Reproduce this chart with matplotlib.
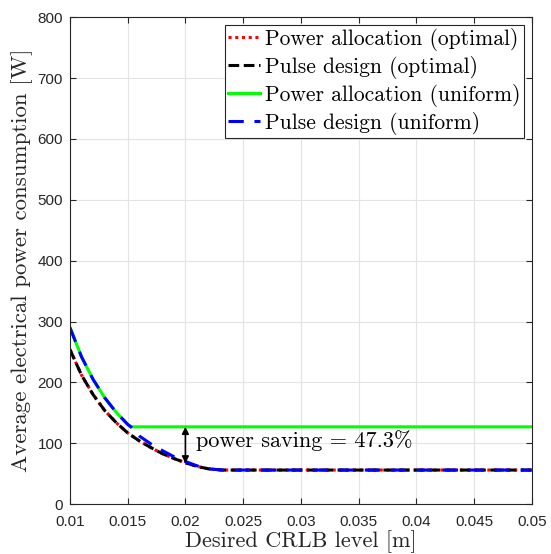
import matplotlib
matplotlib.use("Agg")
import matplotlib.pyplot as plt
import numpy as np

# ---- data ----
x_uni = [0.010, 0.011, 0.012, 0.013, 0.014, 0.015, 0.01528, 0.020, 0.030, 0.040, 0.050]
pa_uni = [290, 242, 205, 175, 151, 131, 127, 127, 127, 127, 127]

x_opt = [0.010, 0.011, 0.012, 0.013, 0.014, 0.015, 0.016, 0.017, 0.018, 0.019,
         0.020, 0.021, 0.022, 0.0232, 0.030, 0.040, 0.050]
pa_opt = [254, 212, 180, 154, 134, 117, 104, 93, 83, 75, 68, 62, 58, 56, 56, 56, 56]
pd_opt = [254, 212, 180, 154, 134, 117, 104, 93, 83, 75, 68, 62, 58, 56, 56, 56, 56]

x_pdu = [0.010, 0.011, 0.012, 0.013, 0.014, 0.015, 0.01528, 0.016, 0.017, 0.018,
         0.019, 0.020, 0.021, 0.022, 0.0232, 0.030, 0.040, 0.050]
pd_uni = [290, 242, 205, 175, 151, 131, 127, 112, 99, 88, 78, 70, 63, 58, 56, 56, 56, 56]

xticks = [0.01, 0.015, 0.02, 0.025, 0.03, 0.035, 0.04, 0.045, 0.05]
xticklabels = ["0.01", "0.015", "0.02", "0.025", "0.03", "0.035", "0.04", "0.045", "0.05"]
yticks = [0, 100, 200, 300, 400, 500, 600, 700, 800]

saving_x = 0.02
saving_top = 127
saving_bottom = 67
saving_text = "power saving = 47.3%"

serif = "cmr10"
tickfont = "Liberation Sans"
dark = "#262626"

fig = plt.figure(figsize=(5.51, 5.54), dpi=100)
ax = fig.add_axes([0.127, 0.090, 0.838, 0.879])

ax.plot(x_opt, pa_opt, color="red", lw=2.2, linestyle=(0, (1, 1.2)),
        label="Power allocation (optimal)")
ax.plot(x_opt, pd_opt, color="black", lw=2.2, linestyle=(0, (3.5, 1.5)),
        label="Pulse design (optimal)")
ax.plot(x_uni, pa_uni, color="#00ff00", lw=2.2, linestyle="-",
        label="Power allocation (uniform)")
ax.plot(x_pdu, pd_uni, color="blue", lw=2.2, linestyle=(0, (5, 3.5)),
        label="Pulse design (uniform)")

ax.annotate("", xy=(saving_x, saving_bottom), xytext=(saving_x, saving_top),
            arrowprops=dict(arrowstyle="<|-|>", color="black", lw=1.2,
                            mutation_scale=10, shrinkA=0, shrinkB=0))
ax.text(saving_x + 0.00095, (saving_top + saving_bottom) / 2 + 8, saving_text,
        fontfamily=serif, fontsize=16, va="center", ha="left")

ax.set_xlim(0.01, 0.05)
ax.set_ylim(0, 800)
ax.set_xticks(xticks)
ax.set_xticklabels(xticklabels)
ax.set_yticks(yticks)
ax.grid(True, color="#e3e3e3", lw=0.8)
ax.set_axisbelow(True)
ax.tick_params(direction="in", top=True, right=True, length=4, width=0.8,
               colors=dark, labelsize=11)
ax.tick_params(axis="x", pad=8)
ax.tick_params(axis="y", pad=5)
for lab in ax.get_xticklabels() + ax.get_yticklabels():
    lab.set_fontfamily(tickfont)
for s in ax.spines.values():
    s.set_color(dark)
    s.set_linewidth(0.8)

ax.set_xlabel("Desired CRLB level [m]", fontfamily=serif, fontsize=16,
              color=dark, labelpad=1)
ax.set_ylabel("Average electrical power consumption [W]", fontfamily=serif,
              fontsize=16.5, color=dark, labelpad=3)

leg = ax.legend(loc="upper right", prop={"family": serif, "size": 15.5},
                frameon=True, fancybox=False, edgecolor=dark, framealpha=1,
                handlelength=1.5, handletextpad=0.25, borderpad=0.15,
                labelspacing=0.23, borderaxespad=0.35)
leg.get_frame().set_linewidth(0.8)

fig.savefig("out.png", dpi=100)
